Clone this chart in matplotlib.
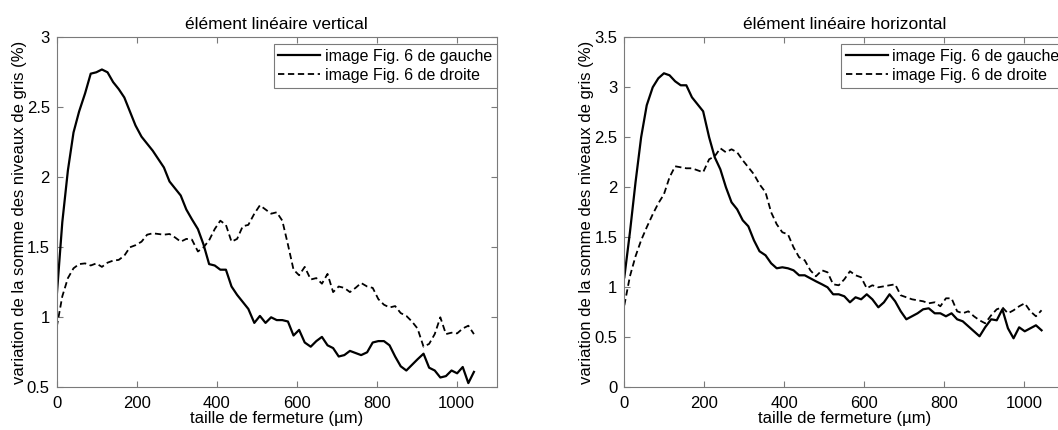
#!/usr/bin/env python3
"""
Variation de la somme des niveaux de gris en fonction de la taille de
fermeture, pour un element lineaire vertical et horizontal.
"""

import matplotlib
matplotlib.use("Agg")
import matplotlib.pyplot as plt
from matplotlib.ticker import FormatStrFormatter

plt.rcParams['font.family'] = ['Liberation Sans', 'DejaVu Sans']

# taille de fermeture (um)
taille = [0, 14, 28, 42, 56, 71, 85, 99, 113, 127, 141, 155, 169, 183, 197,
          212, 226, 240, 254, 268, 282, 296, 310, 324, 338, 353, 367, 381,
          395, 409, 423, 437, 451, 465, 479, 494, 508, 522, 536, 550, 564,
          578, 592, 606, 620, 635, 649, 663, 677, 691, 705, 719, 733, 747,
          761, 776, 790, 804, 818, 832, 846, 860, 874, 888, 902, 917, 931,
          945, 959, 973, 987, 1001, 1015, 1029, 1043]

# element lineaire vertical
vert_gauche = [1.15, 1.68, 2.05, 2.32, 2.47, 2.60, 2.74, 2.75, 2.77, 2.75,
               2.68, 2.63, 2.57, 2.47, 2.37, 2.29, 2.24, 2.19, 2.13, 2.07,
               1.97, 1.92, 1.87, 1.77, 1.70, 1.63, 1.52, 1.38, 1.37, 1.34,
               1.34, 1.22, 1.16, 1.11, 1.06, 0.96, 1.01, 0.96, 1.00, 0.98,
               0.98, 0.97, 0.87, 0.91, 0.82, 0.79, 0.83, 0.86, 0.80, 0.78,
               0.72, 0.73, 0.76, 0.745, 0.73, 0.75, 0.82, 0.83, 0.83, 0.80,
               0.72, 0.65, 0.62, 0.66, 0.70, 0.74, 0.64, 0.62, 0.57, 0.58,
               0.62, 0.60, 0.645, 0.53, 0.61]
vert_droite = [0.93, 1.15, 1.28, 1.35, 1.38, 1.385, 1.37, 1.385, 1.36, 1.39,
               1.405, 1.41, 1.44, 1.50, 1.515, 1.54, 1.59, 1.60, 1.595, 1.59,
               1.595, 1.57, 1.54, 1.56, 1.555, 1.47, 1.50, 1.55, 1.63, 1.69,
               1.66, 1.54, 1.56, 1.65, 1.66, 1.74, 1.80, 1.77, 1.74, 1.75,
               1.69, 1.52, 1.34, 1.30, 1.36, 1.27, 1.28, 1.24, 1.31, 1.18,
               1.22, 1.21, 1.18, 1.21, 1.245, 1.22, 1.21, 1.13, 1.09, 1.07,
               1.08, 1.03, 1.01, 0.97, 0.92, 0.79, 0.81, 0.88, 1.00, 0.88,
               0.89, 0.885, 0.92, 0.94, 0.88]

# element lineaire horizontal
horiz_gauche = [1.10, 1.55, 2.05, 2.50, 2.82, 3.00, 3.09, 3.14, 3.12, 3.06,
                3.02, 3.02, 2.90, 2.83, 2.76, 2.50, 2.30, 2.18, 2.00, 1.85,
                1.78, 1.67, 1.61, 1.47, 1.36, 1.32, 1.24, 1.19, 1.20, 1.19,
                1.17, 1.12, 1.12, 1.09, 1.06, 1.03, 1.00, 0.93, 0.93, 0.91,
                0.85, 0.90, 0.88, 0.93, 0.88, 0.80, 0.85, 0.93, 0.86, 0.76,
                0.68, 0.71, 0.74, 0.78, 0.79, 0.74, 0.74, 0.71, 0.74, 0.68,
                0.66, 0.61, 0.56, 0.51, 0.60, 0.68, 0.67, 0.78, 0.59, 0.49,
                0.60, 0.56, 0.59, 0.62, 0.57]
horiz_droite = [0.82, 1.11, 1.31, 1.47, 1.60, 1.73, 1.84, 1.93, 2.10, 2.21,
                2.20, 2.19, 2.19, 2.17, 2.15, 2.28, 2.31, 2.39, 2.35, 2.38,
                2.35, 2.27, 2.20, 2.13, 2.03, 1.95, 1.75, 1.63, 1.55, 1.53,
                1.40, 1.30, 1.27, 1.17, 1.11, 1.17, 1.15, 1.03, 1.02, 1.08,
                1.16, 1.12, 1.10, 0.99, 1.02, 1.00, 1.01, 1.02, 1.03, 0.92,
                0.90, 0.88, 0.87, 0.86, 0.84, 0.85, 0.81, 0.89, 0.89, 0.76,
                0.74, 0.76, 0.71, 0.67, 0.64, 0.72, 0.78, 0.80, 0.74, 0.77,
                0.81, 0.84, 0.76, 0.71, 0.77]

titres = ['élément linéaire vertical', 'élément linéaire horizontal']
etiquettes = ['image Fig. 6 de gauche', 'image Fig. 6 de droite']
ylims = [(0.5, 3), (0, 3.5)]
yticks = [[0.5, 1, 1.5, 2, 2.5, 3], [0, 0.5, 1, 1.5, 2, 2.5, 3, 3.5]]
xticks = [0, 200, 400, 600, 800, 1000]

GRIS = '#7a7a7a'
FS = 12


def style_axes(ax, ylim, yt, titre):
    ax.set_xlim(0, 1100)
    ax.set_ylim(*ylim)
    ax.set_xticks(xticks)
    ax.set_yticks(yt)
    ax.yaxis.set_major_formatter(FormatStrFormatter('%g'))
    for sp in ax.spines.values():
        sp.set_color(GRIS)
        sp.set_linewidth(0.8)
    ax.tick_params(direction='in', length=4, width=0.8, color=GRIS,
                   top=True, right=True, labelsize=FS, labelcolor='black')
    ax.tick_params(axis='x', pad=6)
    ax.tick_params(axis='y', pad=5)
    ax.set_title(titre, fontsize=12.5, pad=6)
    ax.set_xlabel('taille de fermeture (µm)', fontsize=FS, labelpad=0)
    ax.set_ylabel('variation de la somme des niveaux de gris (%)',
                  fontsize=FS, labelpad=0)


fig = plt.figure(figsize=(10.58, 4.30), dpi=100)
ax1 = fig.add_axes([0.0536, 0.0993, 0.4159, 0.814])
ax2 = fig.add_axes([0.5901, 0.0993, 0.4159, 0.814])

series = [(vert_gauche, vert_droite), (horiz_gauche, horiz_droite)]
for i, ax in enumerate([ax1, ax2]):
    gauche, droite = series[i]
    ax.plot(taille, gauche, color='black', lw=1.6, ls='-', label=etiquettes[0])
    ax.plot(taille, droite, color='black', lw=1.3, ls=(0, (3.5, 2)),
            label=etiquettes[1])
    style_axes(ax, ylims[i], yticks[i], titres[i])
    leg = ax.legend(loc='upper right', bbox_to_anchor=(1.0, 1 - 7 / 350),
                    borderaxespad=0, fancybox=False, framealpha=1,
                    edgecolor=GRIS, fontsize=11.5, handlelength=2.6,
                    handletextpad=0.3, borderpad=0.3, labelspacing=0.25)
    leg.get_frame().set_linewidth(0.8)

fig.savefig('out.png', dpi=100)
plt.close(fig)
